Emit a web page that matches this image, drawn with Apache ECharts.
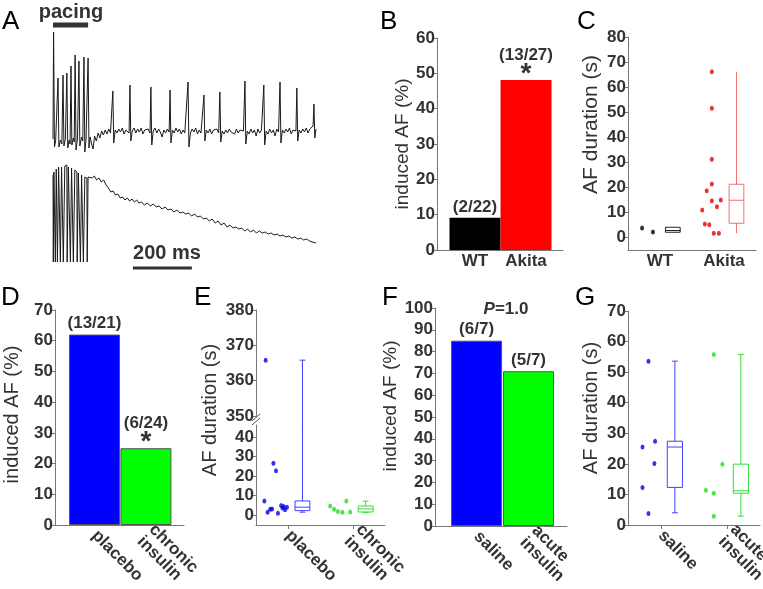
<!DOCTYPE html>
<html><head><meta charset="utf-8">
<script src="https://cdn.jsdelivr.net/npm/echarts@6/dist/echarts.min.js"></script>
<style>html,body{margin:0;padding:0;background:#fff}#c{width:763px;height:589px}</style>
</head><body><div id="c"></div>
<script>
// ---------- Panel A: traces (time in ms, amplitude arbitrary units) ----------
const traceTop = [[0,-4],[2,103],[5,-12],[9,-6],[14,-8],[17,57],[20,-12],[25,-5],[30,-9],[34,60],[37,-11],[42,-4],[47,62],[50,-13],[55,-5],[58,-9],[61,69],[64,-10],[69,-3],[72,-7],[75,80],[78,-15],[83,-4],[88,74],[91,-11],[97,-2],[101,-6],[105,78],[108,-17],[112,-4],[119,77],[122,-13],[126,-2],[131,-9],[136,-14],[141,-1],[147,-6],[153,2],[159,-3],[165,4],[171,0],[177,5],[183,1],[189,6],[195,2],[200,3],[203,44],[206,-8],[211,5],[217,2],[223,6],[229,3],[235,7],[241,1],[247,5],[253,3],[258,2],[261,50],[264,-6],[269,4],[275,7],[281,2],[287,6],[293,3],[299,7],[305,1],[311,5],[317,3],[323,6],[329,2],[332,48],[335,-10],[340,4],[346,7],[352,2],[358,6],[364,3],[370,-2],[376,5],[382,2],[388,6],[394,3],[397,45],[400,-8],[405,5],[411,2],[417,7],[423,3],[429,6],[435,1],[441,5],[447,2],[453,4],[458,53],[461,-12],[466,2],[472,6],[478,3],[484,7],[490,1],[496,5],[502,2],[508,4],[512,40],[515,-6],[520,5],[526,2],[532,6],[538,1],[544,5],[550,3],[556,6],[562,2],[566,43],[569,-7],[574,4],[580,1],[586,5],[592,2],[598,6],[604,3],[610,5],[616,1],[622,6],[628,2],[634,5],[640,3],[646,4],[651,54],[654,-9],[659,4],[665,1],[671,6],[677,2],[683,5],[689,-1],[695,6],[701,2],[707,5],[712,3],[715,50],[718,-10],[723,4],[729,1],[735,6],[741,2],[747,5],[753,-1],[759,6],[765,3],[770,53],[773,-8],[778,5],[784,2],[790,6],[796,3],[802,7],[808,1],[814,5],[820,3],[824,4],[827,47],[830,-6],[835,5],[841,2],[847,6],[853,3],[859,7],[865,2],[871,6],[877,4],[882,9],[885,31],[888,-3],[892,6]];
const traceBottom = [[0,25],[1,-62],[3,28],[7,30],[8,-62],[11,31],[14,32],[15,-62],[19,33],[24,34],[25,-62],[29,33],[34,35],[35,-62],[40,34],[47,35],[48,-62],[52,33],[58,34],[59,-62],[63,32],[68,31],[69,-62],[74,30],[81,28],[82,-62],[86,27],[92,26],[93,-62],[97,25],[102,24],[103,-62],[108,23],[115,22],[116,-62],[119,23],[125,24],[133,22],[140,24],[148,20],[156,22],[164,18],[172,20],[180,15],[188,12],[196,8],[204,9],[212,5],[220,6],[228,2],[236,3],[244,0],[252,2],[260,-1],[268,1],[276,-2],[284,0],[292,-3],[300,-2],[310,-5],[320,-3],[330,-6],[340,-4],[350,-7],[360,-6],[370,-9],[380,-7],[390,-10],[400,-9],[410,-12],[420,-10],[430,-13],[440,-12],[450,-14],[460,-13],[470,-16],[480,-14],[490,-17],[500,-16],[510,-19],[520,-18],[530,-21],[540,-19],[550,-23],[560,-21],[570,-25],[580,-23],[590,-27],[600,-25],[610,-28],[620,-27],[630,-29],[640,-28],[650,-31],[660,-29],[670,-32],[680,-30],[690,-33],[700,-31],[710,-33],[720,-32],[730,-34],[740,-33],[750,-35],[760,-34],[770,-36],[780,-35],[790,-37],[800,-36],[810,-38],[820,-37],[830,-39],[840,-38],[850,-40],[860,-39],[870,-41],[880,-42],[892,-43]];
const pacingBar = [[0,110],[119,110]];
const scaleBar = [[271,-68],[471,-68]];
const pacingText = 'pacing';
const scaleText = '200 ms';

// ---------- Panel B ----------
const bCats = ['WT','Akita'];
const bValues = [9.1, 48.1];
const bLabels = ['(2/22)','(13/27)'];
const bStars = ['', '*'];
const bColors = ['#000000','#ff0000'];
const bTicks = [0,10,20,30,40,50,60];

// ---------- Panel C ----------
const cCats = ['WT','Akita'];
const cWTPts = [[-0.28,3.6],[-0.11,2.0]];
const cAkitaPts = [[0.81,66.1],[0.81,51.5],[0.81,31.1],[0.81,21.2],[0.73,18.5],[0.66,10.8],[0.81,14.5],[0.89,12.1],[0.95,14.8],[0.70,5.2],[0.77,4.9],[0.84,1.5],[0.92,1.5]];
// [position, min, q1, median, q3, max]
const cWTBox = [[0.2,1.9,1.9,2.6,3.9,3.9]];
const cAkitaBox = [[1.195,1.5,5.5,14.7,21.1,66.0]];
const cTicks = [0,10,20,30,40,50,60,70,80];

// ---------- Panel D ----------
const dCats = ['placebo','chronic\ninsulin'];
const dValues = [62, 25];
const dLabels = ['(13/21)','(6/24)'];
const dStars = ['', '*'];
const dColors = ['#0000ff','#00ff00'];
const dTicks = [0,10,20,30,40,50,60,70];

// ---------- Panel E ----------
const eCats = ['placebo','chronic\ninsulin'];
const ePlaceboPts = [[-0.35,365.8],[-0.23,26.6],[-0.19,22.8],[-0.37,7.2],[-0.32,1.4],[-0.28,2.9],[-0.25,3.1],[-0.16,0.9],[-0.11,4.8],[-0.07,4.3],[-0.05,2.6],[-0.02,4.0],[-0.09,3.5]];
const eInsulinPts = [[0.65,4.6],[0.71,2.9],[0.77,1.7],[0.84,1.4],[0.90,7.1],[0.96,1.5]];
const ePlaceboBox = [[0.22,1.4,2.2,4.0,7.2,365.8]];
const eInsulinBox = [[1.2,1.3,1.5,3.1,4.6,7.1]];
const eTicksTop = [350,360,370,380];
const eTicksBottom = [0,10,20,30,40];

// ---------- Panel F ----------
const fCats = ['saline','acute\ninsulin'];
const fValues = [85, 71];
const fLabels = ['(6/7)','(5/7)'];
const fColors = ['#0000ff','#00ff00'];
const fTicks = [0,10,20,30,40,50,60,70,80,90,100];

// ---------- Panel G ----------
const gCats = ['saline','acute\ninsulin'];
const gSalinePts = [[-0.19,53.6],[-0.28,25.5],[-0.09,27.4],[-0.10,20.1],[-0.28,12.3],[-0.19,3.8]];
const gAcutePts = [[0.80,55.8],[0.93,19.9],[0.68,11.4],[0.80,10.4],[0.80,2.9]];
const gSalineBox = [[0.21,4.0,12.3,25.5,27.4,53.6]];
const gAcuteBox = [[1.21,2.9,10.4,11.2,19.9,55.8]];
const gTicks = [0,10,20,30,40,50,60,70];

// ---------- styling helpers ----------
const FF = '"Liberation Sans", Arial, Helvetica, sans-serif';
const TXT = '#333333';
const AX = '#777777';
const BOXW = 0.23;

function yAx(grid, min, max, ticks, name, nameGap, pad, fs) {
  return {type:'value', gridIndex:grid, min:min, max:max, splitLine:{show:false},
    axisLine:{show:true, onZero:false, lineStyle:{color:AX, width:1}},
    axisTick:{show:true, length:3, customValues:ticks, lineStyle:{color:AX}},
    axisLabel:{customValues:ticks, margin:2, color:TXT, fontSize:17, fontWeight:'bold', fontFamily:FF},
    name:name||'', nameLocation:'middle', nameGap:nameGap||0,
    nameTextStyle:{fontSize:fs||19, color:TXT, fontFamily:FF, padding:pad||0}};
}
function xAx(grid, min, max, cats, rotate, tick, show) {
  return {type:'value', gridIndex:grid, min:min, max:max, show:show!==false, splitLine:{show:false},
    axisLine:{show:true, onZero:false, lineStyle:{color:AX, width:1}},
    axisTick:{show:!!tick, length:4, customValues:[0,1], lineStyle:{color:AX}},
    axisLabel:{customValues:[0,1], rotate:rotate||0, margin:rotate?8:3, hideOverlap:false,
      color:TXT, fontSize:17, fontWeight:'bold', fontFamily:FF, lineHeight:17,
      formatter:function(v){ return cats[Math.round(v)]; }}};
}
function barSeries(xi, values, colors, labels, stars, border) {
  return {type:'bar', xAxisIndex:xi, yAxisIndex:xi, barWidth:51,
    data: values.map(function(v,i){ return {value:[i,v], itemStyle:{color:colors[i], borderColor:border?'#555':colors[i], borderWidth:border?1:0}}; }),
    label:{show:true, position:'top', distance:2,
      formatter:function(p){ var i=p.dataIndex; return (stars && stars[i]) ? '{t|'+labels[i]+'}\n{s|'+stars[i]+'}' : '{t|'+labels[i]+'}'; },
      rich:{t:{fontSize:17, fontWeight:'bold', color:TXT, fontFamily:FF, lineHeight:18},
            s:{fontSize:28, fontWeight:'bold', color:TXT, fontFamily:FF, lineHeight:14, padding:[6,0,0,0]}}}};
}
function scatterSeries(xi, pts, color) {
  return {type:'scatter', xAxisIndex:xi, yAxisIndex:xi, data:pts, symbol:'circle', symbolSize:[4,5],
    itemStyle:{color:color}, silent:true};
}
function boxRender(capW) {
  return function(params, api) {
    var x=api.value(0), lo=api.value(1), q1=api.value(2), md=api.value(3), q3=api.value(4), hi=api.value(5);
    var half = api.size([BOXW,0])[0]/2, cap = api.size([capW,0])[0]/2;
    var pHi=api.coord([x,hi]), pQ3=api.coord([x,q3]), pMd=api.coord([x,md]), pQ1=api.coord([x,q1]), pLo=api.coord([x,lo]);
    var st = {stroke:api.visual('color'), fill:null, lineWidth:1};
    var ch = [
      {type:'line', shape:{x1:pHi[0],y1:pHi[1],x2:pQ3[0],y2:pQ3[1]}, style:st},
      {type:'line', shape:{x1:pQ1[0],y1:pQ1[1],x2:pLo[0],y2:pLo[1]}, style:st},
      {type:'rect', shape:{x:pQ3[0]-half, y:pQ3[1], width:2*half, height:Math.max(pQ1[1]-pQ3[1],1)}, style:{stroke:api.visual('color'), fill:'rgba(0,0,0,0)', lineWidth:1}},
      {type:'line', shape:{x1:pMd[0]-half,y1:pMd[1],x2:pMd[0]+half,y2:pMd[1]}, style:st}
    ];
    if (cap>0) {
      ch.push({type:'line', shape:{x1:pHi[0]-cap,y1:pHi[1],x2:pHi[0]+cap,y2:pHi[1]}, style:st});
      ch.push({type:'line', shape:{x1:pLo[0]-cap,y1:pLo[1],x2:pLo[0]+cap,y2:pLo[1]}, style:st});
    }
    return {type:'group', children:ch};
  };
}
function boxSeries(xi, data, color, capW, clip) {
  return {type:'custom', xAxisIndex:xi, yAxisIndex:xi, data:data, renderItem:boxRender(capW), itemStyle:{color:color}, clip:!!clip, silent:true};
}
// top part of the broken whisker in panel E
function whiskerTopRender(capW) {
  return function(params, api) {
    var x=api.value(0), hi=api.value(5);
    var cap = api.size([capW,0])[0]/2;
    var pHi=api.coord([x,hi]);
    var cs = params.coordSys;
    var yEnd = cs.y + cs.height + 10;
    var st = {stroke:api.visual('color'), lineWidth:1};
    return {type:'group', children:[
      {type:'line', shape:{x1:pHi[0],y1:pHi[1],x2:pHi[0],y2:yEnd}, style:st},
      {type:'line', shape:{x1:pHi[0]-cap,y1:pHi[1],x2:pHi[0]+cap,y2:pHi[1]}, style:st}
    ]};
  };
}

const grids = [
  {left:53, top:5, width:263, height:150},   // 0 A top
  {left:53, top:160, width:263, height:110}, // 1 A bottom
  {left:437, top:38, width:126, height:212}, // 2 B
  {left:628, top:37, width:128, height:213}, // 3 C
  {left:55, top:310, width:129, height:215}, // 4 D
  {left:256, top:310, width:129, height:107},// 5 E top
  {left:256, top:425, width:129, height:100},// 6 E bottom
  {left:435, top:308, width:132, height:218},// 7 F
  {left:628, top:311, width:132, height:214} // 8 G
].map(function(g){ g.outerBoundsMode='none'; g.containLabel=false; return g; });

const xAxes = [
  {type:'value', gridIndex:0, min:0, max:892, show:false},
  {type:'value', gridIndex:1, min:0, max:892, show:false},
  xAx(2, -0.745, 1.725, bCats, 0, false),
  xAx(3, -0.5, 1.5, cCats, 0, false),
  xAx(4, -0.767, 1.74, dCats, -45, false),
  xAx(5, -0.5, 1.5, eCats, 0, false, false),
  xAx(6, -0.5, 1.5, eCats, -45, true),
  xAx(7, -0.80, 1.74, fCats, -45, false),
  xAx(8, -0.5, 1.5, gCats, -45, true)
];
const yAxes = [
  {type:'value', gridIndex:0, min:-20, max:130, show:false},
  {type:'value', gridIndex:1, min:-70, max:40, show:false},
  yAx(2, 0, 60, bTicks, 'induced AF (%)', 25, 0, 19),
  yAx(3, -5.2, 80, cTicks, 'AF duration (s)', 26, [0,0,0,38], 21),
  yAx(4, 0, 70, dTicks, 'induced AF (%)', 33, [0,0,0,6], 20),
  yAx(5, 349.7, 380, eTicksTop, '', 0),
  yAx(6, -5.2, 46.3, eTicksBottom, '', 0),
  yAx(7, 0, 100, fTicks, 'induced AF (%)', 27, [0,0,0,22], 19),
  yAx(8, 0, 70, gTicks, 'AF duration (s)', 27, [0,0,0,20], 20)
];

const series = [
  {type:'line', xAxisIndex:0, yAxisIndex:0, data:traceTop, showSymbol:false, lineStyle:{color:'#1a1a1a', width:1}, clip:false, silent:true},
  {type:'line', xAxisIndex:0, yAxisIndex:0, data:pacingBar, showSymbol:false, lineStyle:{color:'#333', width:5}, silent:true},
  {type:'line', xAxisIndex:1, yAxisIndex:1, data:traceBottom, showSymbol:false, lineStyle:{color:'#1a1a1a', width:1}, clip:false, silent:true},
  {type:'line', xAxisIndex:1, yAxisIndex:1, data:scaleBar, showSymbol:false, lineStyle:{color:'#333', width:3}, silent:true},
  barSeries(2, bValues, bColors, bLabels, bStars, false),
  scatterSeries(3, cWTPts, '#000000'),
  scatterSeries(3, cAkitaPts, '#e00000'),
  boxSeries(3, cWTBox, '#222222', 0),
  boxSeries(3, cAkitaBox, '#f07070', 0),
  barSeries(4, dValues, dColors, dLabels, dStars, true),
  scatterSeries(5, ePlaceboPts.filter(function(p){return p[1]>=349.7;}), '#0000ee'),
  {type:'custom', xAxisIndex:5, yAxisIndex:5, data:ePlaceboBox, renderItem:whiskerTopRender(0.09), itemStyle:{color:'#4040ff'}, clip:false, silent:true},
  scatterSeries(6, ePlaceboPts.filter(function(p){return p[1]<46.3;}), '#0000ee'),
  scatterSeries(6, eInsulinPts, '#22dd22'),
  boxSeries(6, ePlaceboBox, '#4040ff', 0.09, true),
  boxSeries(6, eInsulinBox, '#33dd33', 0.09, true),
  barSeries(7, fValues, fColors, fLabels, null, true),
  scatterSeries(8, gSalinePts, '#0000ee'),
  scatterSeries(8, gAcutePts, '#22dd22'),
  boxSeries(8, gSalineBox, '#4040ff', 0.09),
  boxSeries(8, gAcuteBox, '#33dd33', 0.09)
];

function letter(t, x, y) {
  return {type:'text', x:x, y:y, style:{text:t, fontSize:26, fontFamily:FF, fill:'#000', textVerticalAlign:'top'}, silent:true};
}
const graphic = [
  letter('A', 2, 9), letter('B', 380, 9), letter('C', 577, 9),
  letter('D', 1, 285), letter('E', 194, 285), letter('F', 382, 285), letter('G', 575, 285),
  {type:'text', x:71, y:12, style:{text:pacingText, fontSize:20, fontWeight:'bold', fontFamily:FF, fill:'#333', textAlign:'center', textVerticalAlign:'middle'}, silent:true},
  {type:'text', x:167, y:253, style:{text:scaleText, fontSize:20, fontWeight:'bold', fontFamily:FF, fill:'#333', textAlign:'center', textVerticalAlign:'middle'}, silent:true},
  {type:'text', x:506, y:309, style:{text:'{i|P}{n|=1.0}', textAlign:'center', textVerticalAlign:'middle',
     rich:{i:{fontSize:17, fontWeight:'bold', fontStyle:'italic', fontFamily:FF, fill:'#333'}, n:{fontSize:17, fontWeight:'bold', fontFamily:FF, fill:'#333'}}}, silent:true},
  {type:'text', x:210, y:410, rotation:Math.PI/2, style:{text:'AF duration (s)', fontSize:20, fontFamily:FF, fill:TXT, textAlign:'center', textVerticalAlign:'middle'}, silent:true},
  {type:'line', shape:{x1:252, y1:421, x2:260, y2:414}, style:{stroke:'#555', lineWidth:1}, silent:true},
  {type:'line', shape:{x1:252, y1:425, x2:260, y2:418}, style:{stroke:'#555', lineWidth:1}, silent:true}
];

const chart = echarts.init(document.getElementById('c'), null, {renderer:'canvas'});
chart.setOption({animation:false, backgroundColor:'#ffffff', grid:grids, xAxis:xAxes, yAxis:yAxes, series:series, graphic:graphic});
</script></body></html>
